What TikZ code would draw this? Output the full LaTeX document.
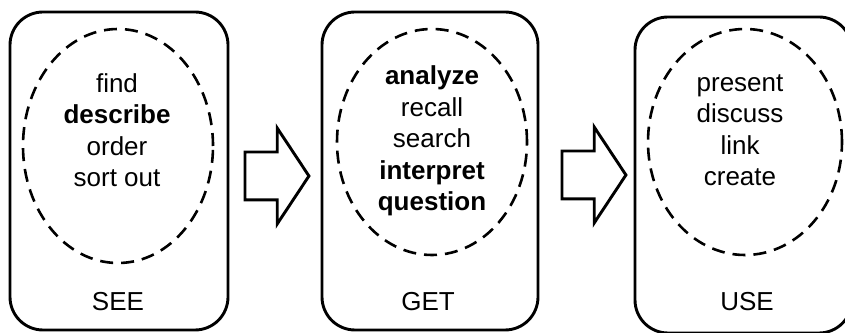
\documentclass[tikz,border=0pt]{standalone}
\usepackage{fontspec}
\setmainfont{Liberation Sans}
\usepackage{tikz}
\usetikzlibrary{positioning,shapes.geometric,shapes.arrows}
\tikzset{
  frame/.style={draw,line width=2.9pt,rounded corners=33pt,inner sep=0pt},
  ring/.style={draw,ellipse,line width=2.6pt,dash pattern=on 13pt off 8pt,inner sep=0pt},
  words/.style={align=center,font=\fontsize{26}{31.5}\selectfont,inner sep=0pt},
  tag/.style={font=\fontsize{26}{31.5}\selectfont,inner sep=0pt},
  blockarrow/.style={draw,single arrow,line width=2.9pt,inner xsep=0pt,inner ysep=22.5pt,
    minimum height=64pt,single arrow head extend=24pt,single arrow tip angle=113}
}

\begin{document}
\begin{tikzpicture}[x=1pt,y=1pt]
\useasboundingbox (0,0) rectangle (845,332);
% the three stages
\node[frame,minimum width=218pt,minimum height=318pt] (see) at (119,161) {};
\node[frame,minimum width=216pt,minimum height=318pt] (get) at (430,161) {};
\node[frame,minimum width=217pt,minimum height=316pt] (use) at (743.5,157) {};
% dashed ovals
\node[ring,minimum width=190pt,minimum height=234pt] (seering) at (118,186) {};
\node[ring,minimum width=190pt,minimum height=226pt] (getring) at (432,190) {};
\node[ring,minimum width=194pt,minimum height=226pt] (usering) at (745,190) {};
% verbs
\node[words] (seewords) at (117,202) {find\\\textbf{describe}\\order\\sort out};
\node[words] (getwords) at (432,191) {\textbf{analyze}\\recall\\search\\\textbf{interpret}\\\textbf{question}};
\node[words] (usewords) at (740,202) {present\\discuss\\link\\create};
% names
\node[tag] (seetag) at (118,30) {SEE};
\node[tag] (gettag) at (428,30) {GET};
\node[tag] (usetag) at (747,30) {USE};
% block arrows
\node[blockarrow,anchor=tail] (arr1) at (243.5,156) {};
\node[blockarrow,anchor=tail] (arr2) at (560.5,157) {};
\end{tikzpicture}
\end{document}
